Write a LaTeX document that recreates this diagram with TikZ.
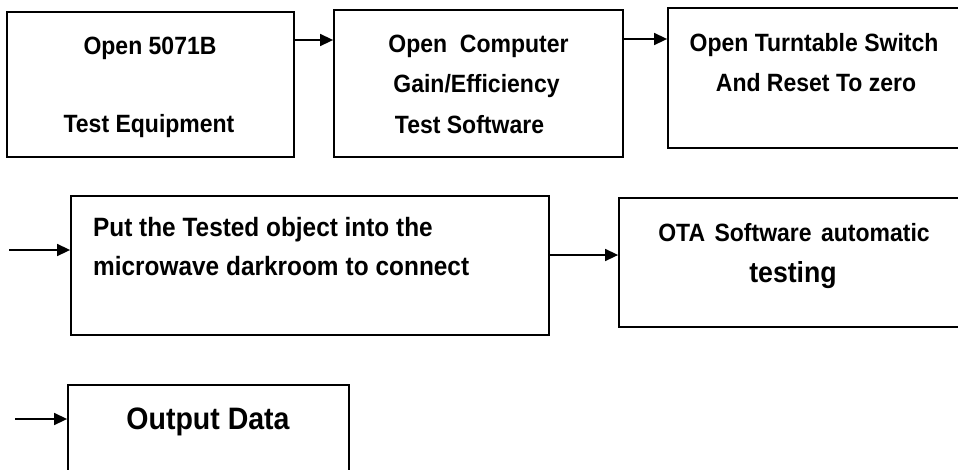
\documentclass[tikz,border=0pt]{standalone}
\usepackage{fontspec}
\setmainfont{Liberation Sans}
\newfontfamily\narrowsans[FakeStretch=0.92]{Liberation Sans}
\usetikzlibrary{arrows.meta}
\begin{document}
\begin{tikzpicture}[x=1pt,y=-1pt,
  box/.style={draw=black,line width=1.8pt,inner sep=0pt,fill=none},
  arr/.style={line width=1.5pt,-{Triangle[length=13pt,width=12pt]}},
  txt/.style={inner sep=0pt,text height=18pt,text depth=0pt,font=\narrowsans\fontsize{25}{29}\selectfont\bfseries},
  bigtxt/.style={txt,text height=22pt,font=\narrowsans\fontsize{31}{35}\selectfont\bfseries}]
\useasboundingbox (0,0) rectangle (958,469);
\fill[white] (0,0) rectangle (958,469);
\clip (0,0) rectangle (958,469);
% boxes
\node[box,minimum width=287pt,minimum height=145pt] (b1) at (150.5,84.5) {};
\node[box,minimum width=289pt,minimum height=147pt] (b2) at (478.5,83.5) {};
\node[box,minimum width=298pt,minimum height=140pt] (b3) at (817,78) {};
\node[box,minimum width=478pt,minimum height=139pt] (b4) at (310,265.5) {};
\node[box,minimum width=347pt,minimum height=129pt] (b5) at (792.5,262.5) {};
\node[box,minimum width=281pt,minimum height=95pt] (b6) at (208.5,432.5) {};
% texts
\node[txt] (t1a) at (150,45) {Open 5071B};
\node[txt] (t1b) at (149,123) {Test Equipment};
\node[txt] (t2a) at (478.5,43) {Open\ \ Computer};
\node[txt] (t2b) at (476.5,83) {Gain/Efficiency};
\node[txt] (t2c) at (469.5,124) {Test Software};
\node[txt] (t3a) at (814,42) {Open Turntable Switch};
\node[txt] (t3b) at (816,82) {And Reset To zero};
\node[txt,anchor=west,text height=19pt,font=\narrowsans\fontsize{26.5}{30}\selectfont\bfseries] (t4a) at (93,227) {Put the Tested object into the};
\node[txt,anchor=west,text height=19pt,font=\narrowsans\fontsize{26.5}{30}\selectfont\bfseries] (t4b) at (93,266) {microwave\hspace{7pt}darkroom\hspace{7pt}to\hspace{7pt}connect};
\node[txt] (t5a) at (794,232) {OTA\hspace{3pt} Software\hspace{3pt} automatic};
\node[txt,font=\narrowsans\fontsize{29}{33}\selectfont\bfseries,text height=20.5pt] (t5b) at (793,272) {testing};
\node[bigtxt] (t6) at (208,418) {Output Data};
% connectors
\coordinate (s4) at (9,250);
\coordinate (s6) at (15,419);
\draw[arr] ([yshift=44.5pt]b1.east) -- ([yshift=44.5pt]b1.east -| b2.west);
\draw[arr] ([yshift=44.5pt]b2.east) -- ([yshift=44.5pt]b2.east -| b3.west);
\draw[arr] (s4) -- (s4 -| b4.west);
\draw[arr] ([yshift=10.5pt]b4.east) -- ([yshift=10.5pt]b4.east -| b5.west);
\draw[arr] (s6) -- (s6 -| b6.west);
\end{tikzpicture}
\end{document}
